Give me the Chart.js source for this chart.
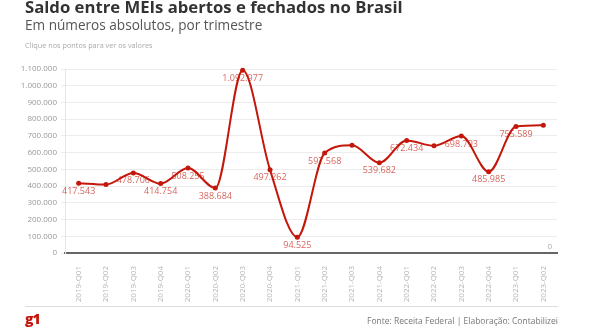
<!DOCTYPE html>
<html lang="pt-BR">
<head>
<meta charset="utf-8">
<script src="https://cdn.jsdelivr.net/npm/chart.js@4/dist/chart.umd.min.js"></script>
<style>
  html, body { margin: 0; padding: 0; background: #fff; }
  body { width: 590px; height: 330px; position: relative; overflow: hidden; font-family: "Open Sans", sans-serif; }
  #chart { position: absolute; left: 0; top: 0; }
  .t { position: absolute; white-space: nowrap; }
  #title { left: 25px; top: -5px; font-size: 16.7px; font-weight: 700; color: #333; }
  #subtitle { left: 25px; top: 15px; font-size: 13.6px; color: #555; }
  #note { left: 25px; top: 40px; font-size: 7.3px; color: #aaa; }
  #rule { position: absolute; left: 25px; top: 306px; width: 533px; height: 1px; background: #ddd; }
  #logo { left: 25px; top: 309px; font-size: 14px; font-weight: 800; color: #c4170c; letter-spacing: -1px; }
  #source { right: 32px; top: 315px; font-size: 8.5px; color: #777; }
</style>
</head>
<body>
<canvas id="chart" width="590" height="330"></canvas>
<div class="t" id="title">Saldo entre MEIs abertos e fechados no Brasil</div>
<div class="t" id="subtitle">Em números absolutos, por trimestre</div>
<div class="t" id="note">Clique nos pontos para ver os valores</div>
<div id="rule"></div>
<div class="t" id="logo">g1</div>
<div class="t" id="source">Fonte: Receita Federal | Elaboração: Contabilizei</div>
<script>
// Quarterly balance of MEIs opened minus closed
const quarters = [
  "2019-Q01", "2019-Q02", "2019-Q03", "2019-Q04",
  "2020-Q01", "2020-Q02", "2020-Q03", "2020-Q04",
  "2021-Q01", "2021-Q02", "2021-Q03", "2021-Q04",
  "2022-Q01", "2022-Q02", "2022-Q03", "2022-Q04",
  "2023-Q01", "2023-Q02"
];
const saldo = [
  417543, 409000, 478706, 414754,
  508255, 388684, 1092977, 497262,
  94525, 597568, 644000, 539682,
  672434, 641000, 698793, 485985,
  755589, 764000
];
// which points carry a value label
const showLabel = [
  true, false, true, true,
  true, true, true, true,
  true, true, false, true,
  true, false, true, true,
  true, false
];
const yTicks = [0, 100000, 200000, 300000, 400000, 500000, 600000, 700000, 800000, 900000, 1000000, 1100000];
// baseline value repeated at the right edge of the plot
const rightTicks = [0];

const RED = "#c4170c";
const fmt = v => String(v).replace(/\B(?=(\d{3})+(?!\d))/g, ".");

const valueLabels = {
  id: "valueLabels",
  afterDatasetsDraw(chart) {
    const ctx = chart.ctx;
    const meta = chart.getDatasetMeta(0);
    const ys = chart.scales.y;
    ctx.save();
    ctx.font = "9px 'Open Sans'";
    ctx.fillStyle = "rgba(196,23,12,0.68)";
    ctx.textAlign = "center";
    ctx.textBaseline = "middle";
    meta.data.forEach((pt, i) => {
      if (!showLabel[i]) return;
      ctx.fillText(fmt(saldo[i]), pt.x, pt.y + 8);
    });
    // right-side baseline tick
    ctx.font = "8px 'Open Sans'";
    ctx.fillStyle = "#aaa";
    ctx.textAlign = "right";
    rightTicks.forEach(v => {
      ctx.fillText(fmt(v), chart.chartArea.right - 5, ys.getPixelForValue(v) - 6);
    });
    ctx.restore();
  }
};

new Chart(document.getElementById("chart"), {
  type: "line",
  data: {
    labels: quarters,
    datasets: [{
      data: saldo,
      borderColor: RED,
      backgroundColor: RED,
      borderWidth: 2,
      pointRadius: 2.5,
      pointBackgroundColor: RED,
      pointBorderWidth: 0,
      cubicInterpolationMode: "monotone",
      clip: false
    }]
  },
  options: {
    responsive: false,
    animation: false,
    events: [],
    layout: { padding: { top: 69, left: 0, right: 33, bottom: 27 } },
    plugins: { legend: { display: false }, tooltip: { enabled: false } },
    scales: {
      x: {
        offset: true,
        grid: { display: false },
        border: { color: "#666", width: 2 },
        ticks: {
          autoSkip: false, minRotation: 90, maxRotation: 90,
          font: { family: "Open Sans", size: 8 }, color: "#b4b4b4", padding: 5
        },
        afterFit: s => { s.height = 50; }
      },
      y: {
        min: 0, max: 1100000,
        afterBuildTicks: s => { s.ticks = yTicks.map(v => ({ value: v })); },
        grid: { color: "#ececec", tickLength: 4 },
        border: { color: "#e4e4e4" },
        ticks: {
          font: { family: "Open Sans", size: 8 }, color: "#999", padding: 4,
          callback: v => fmt(v)
        },
        afterFit: s => { s.width = 65; }
      }
    }
  },
  plugins: [valueLabels]
});
</script>
</body>
</html>
